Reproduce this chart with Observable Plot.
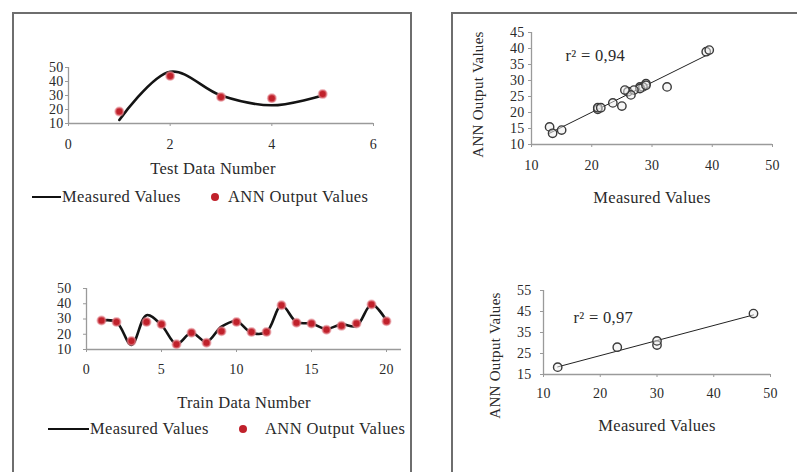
<!DOCTYPE html>
<html><head><meta charset="utf-8">
<script src="https://cdn.jsdelivr.net/npm/d3@7"></script>
<script src="https://cdn.jsdelivr.net/npm/@observablehq/plot@0.6"></script>
<style>
body{margin:0;background:#fff;width:797px;height:472px;overflow:hidden;position:relative;font-family:"Liberation Serif","Times New Roman",serif;}
.panel{position:absolute;border:2px solid #6e6e6e;border-bottom:none;}
.chart{position:absolute;}
.leg{position:absolute;font-size:16.5px;letter-spacing:0.4px;color:#2a2a2a;white-space:nowrap;line-height:16px;}
.legline{position:absolute;height:0;border-top:2.5px solid #111;}
.legdot{position:absolute;width:8px;height:8px;border-radius:50%;background:#c0212b;}
svg text{letter-spacing:0.3px;}
</style></head><body>
<div class="panel" style="left:12px;top:12px;width:396px;height:480px"></div>
<div class="panel" style="left:451px;top:12px;width:400px;height:480px"></div>
<div id="c1" class="chart" style="left:14px;top:15px"></div>
<div id="c2" class="chart" style="left:14px;top:240px"></div>
<div id="c3" class="chart" style="left:454px;top:15px"></div>
<div id="c4" class="chart" style="left:454px;top:240px"></div>

<div class="legline" style="left:32px;top:196px;width:29px"></div>
<div class="leg" style="left:62px;top:189px">Measured Values</div>
<div class="legdot" style="left:211px;top:193px"></div>
<div class="leg" style="left:228px;top:189px">ANN Output Values</div>

<div class="legline" style="left:48px;top:428px;width:41px"></div>
<div class="leg" style="left:90px;top:421px">Measured Values</div>
<div class="legdot" style="left:239px;top:425px"></div>
<div class="leg" style="left:265px;top:421px">ANN Output Values</div>

<script>
// ---- data ----
const testNumber = [1, 2, 3, 4, 5];
const testMeasured = [12.5, 47, 30, 23, 30];
const testANN = [18.5, 44, 29, 28, 31];

const trainNumber = [1, 2, 3, 4, 5, 6, 7, 8, 9, 10, 11, 12, 13, 14, 15, 16, 17, 18, 19, 20];
const trainMeasured = [29, 28, 13, 32.5, 26, 13.5, 21, 15, 25, 28.5, 21, 21.5, 39, 28, 27, 23.5, 26.5, 25.5, 39.5, 29];
const trainANN = [29, 28, 15.5, 28, 26.5, 13.5, 21, 14.5, 22, 28, 21.5, 21.5, 39, 27.5, 27, 23, 25.5, 27, 39.5, 28.5];

const testTicksX = [0, 2, 4, 6];
const trainTicksX = [0, 5, 10, 15, 20];
const lineTicksY = [10, 20, 30, 40, 50];
const scatterTicksX = [10, 20, 30, 40, 50];
const scatter1TicksY = [10, 15, 20, 25, 30, 35, 40, 45];
const scatter2TicksY = [15, 25, 35, 45, 55];
const r2Train = "r² = 0,94";
const r2Test = "r² = 0,97";

const test = testNumber.map((n, i) => ({n, m: testMeasured[i], a: testANN[i]}));
const train = trainNumber.map((n, i) => ({n, m: trainMeasured[i], a: trainANN[i]}));

const FONT = '"Liberation Serif","Times New Roman",serif';
const TXT = "#2a2a2a";
const AX = "#9a9a9a";
const RED = "#c0212b";
const fmt = d => String(d);

function baseStyle() {
  return {fontFamily: FONT, fontSize: "14px", color: TXT, background: "transparent", overflow: "visible"};
}

function lineChart(data, o) {
  return Plot.plot({
    width: 396, height: 200,
    marginLeft: o.ml, marginRight: o.mr, marginTop: o.mt, marginBottom: o.mb,
    x: {domain: o.xd}, y: {domain: [10, 50]},
    style: baseStyle(),
    marks: [
      Plot.axisX({ticks: o.xt, tickFormat: fmt, tickSize: 3, tickPadding: o.xpad, stroke: AX, fontSize: 14, label: null}),
      Plot.axisY({ticks: lineTicksY, tickFormat: fmt, tickSize: 3, tickPadding: o.ypad, stroke: AX, fontSize: 14, label: null}),
      Plot.ruleY([10], {stroke: AX, strokeWidth: 1.3}),
      Plot.ruleX([0], {stroke: AX, strokeWidth: 1.3}),
      Plot.line(data, {x: "n", y: "m", curve: "catmull-rom", stroke: "#141414", strokeWidth: 2.6}),
      Plot.dot(data, {x: "n", y: "a", r: 4, fill: RED, stroke: "#e58a93", strokeOpacity: 0.6, strokeWidth: 2}),
      Plot.text([o.title], {text: d => d, frameAnchor: "bottom", dx: o.tdx, dy: o.tdy, textAnchor: "middle", lineAnchor: "middle", fontSize: 16.5, fill: TXT})
    ]
  });
}

function scatterChart(data, o) {
  return Plot.plot({
    width: 343, height: 200,
    marginLeft: o.ml, marginRight: o.mr, marginTop: o.mt, marginBottom: o.mb,
    x: {domain: [10, 50]}, y: {domain: o.yd},
    style: baseStyle(),
    marks: [
      Plot.axisX({ticks: scatterTicksX, tickFormat: fmt, tickSize: 3, tickPadding: o.xpad, stroke: AX, fontSize: 14, label: null}),
      Plot.axisY({ticks: o.yt, tickFormat: fmt, tickSize: 3, tickPadding: o.ypad, stroke: AX, fontSize: 14, label: null}),
      Plot.ruleY([o.yd[0]], {stroke: AX, strokeWidth: 1.3}),
      Plot.ruleX([10], {stroke: AX, strokeWidth: 1.3}),
      Plot.linearRegressionY(data, {x: "m", y: "a", ci: 0, stroke: "#222", strokeWidth: 1}),
      Plot.dot(data, {x: "m", y: "a", r: 4.2, stroke: "#3a3a3a", strokeWidth: 1.4, fill: "#eee", fillOpacity: 0.5}),
      Plot.text([o.r2], {text: d => d, frameAnchor: "top-left", dx: o.rdx, dy: o.rdy, textAnchor: "start", lineAnchor: "middle", fontSize: 16.5, fill: TXT}),
      Plot.text(["Measured Values"], {text: d => d, frameAnchor: "bottom", dy: o.tdy, textAnchor: "middle", lineAnchor: "middle", fontSize: 16.5, fill: TXT}),
      Plot.text(["ANN Output Values"], {text: d => d, frameAnchor: "left", dx: o.ydx, dy: o.ydy, rotate: -90, textAnchor: "middle", lineAnchor: "middle", fontSize: 15, fill: TXT})
    ]
  });
}

document.getElementById("c1").append(lineChart(test, {
  ml: 54, mr: 37, mt: 52, mb: 92, xd: [0, 6], xt: testTicksX, xpad: 13, ypad: 2, tdx: -8, tdy: 45, title: "Test Data Number"
}));
document.getElementById("c2").append(lineChart(train, {
  ml: 72, mr: 9, mt: 48, mb: 91, xd: [0, 21], xt: trainTicksX, xpad: 12, ypad: 12, tdx: 0, tdy: 53, title: "Train Data Number"
}));
document.getElementById("c3").append(scatterChart(train, {
  ml: 77, mr: 25, mt: 17, mb: 71, yd: [10, 45], yt: scatter1TicksY, xpad: 13, ypad: 4,
  r2: r2Train, rdx: 34, rdy: 23, tdy: 53, ydx: -53, ydy: 6
}));
document.getElementById("c4").append(scatterChart(test, {
  ml: 89, mr: 27, mt: 50, mb: 66, yd: [15, 55], yt: scatter2TicksY, xpad: 11, ypad: 9,
  r2: r2Test, rdx: 30, rdy: 27, tdy: 51, ydx: -48, ydy: 23
}));
</script>
</body></html>
